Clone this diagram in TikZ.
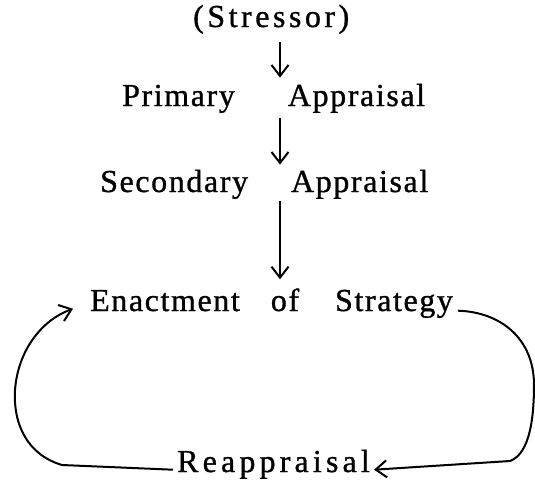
\documentclass[tikz,border=0pt]{standalone}
\usepackage{fontspec}
\setmainfont{Liberation Serif}[LetterSpace=5,FakeBold=1]
\usepackage{tikz}
\usetikzlibrary{arrows.meta}
\tikzstyle{word} = [inner sep=0pt, anchor=base west, font=\fontsize{32}{38}\selectfont]
\tikzstyle{arrow} = [line width=2pt, -{Straight Barb[length=11pt,width=17pt,line width=2pt]}]
\tikzstyle{loop} = [line width=2pt, -{Straight Barb[length=11pt,width=17pt,line width=2pt]}]

\begin{document}
\begin{tikzpicture}[x=1pt,y=-1pt]
\useasboundingbox (0,0) rectangle (535,482);
\node (stressor) [word] at (193,27) {\addfontfeature{LetterSpace=11}(Stressor)};
\node (primary) [word] at (122,106) {Primary\hspace{53pt}Appraisal};
\node (secondary) [word] at (100,192) {Secondary\hspace{43pt}Appraisal};
\node (enact) [word] at (90,311) {Enactment\hspace{31pt}of\hspace{36pt}Strategy};
\node (reapp) [word] at (177,472) {\addfontfeature{LetterSpace=13}Reappraisal};
\coordinate (col) at (280,0);

\draw [arrow,shorten <=8pt,shorten >=6pt] (stressor.south -| col) -- (primary.north -| col);
\draw [arrow,shorten <=5pt,shorten >=5pt] (primary.south -| col) -- (secondary.north -| col);
\draw [arrow,shorten <=2pt,shorten >=9pt] (secondary.south -| col) -- (enact.north -| col);
% the loop back from reappraisal
\draw [loop] ([xshift=-4pt]reapp.mid west) -- (62,465) .. controls (28,455) and (13,425) .. (15,390) .. controls (18,350) and (42,320) .. ([xshift=-17pt]enact.mid west);
\draw [loop] ([xshift=5pt,yshift=-2pt]enact.mid east) .. controls (500,312) and (534,338) .. (534,385) .. controls (534,430) and (526,455) .. (510,461) -- ([xshift=4pt]reapp.mid east);
\end{tikzpicture}
\end{document}
